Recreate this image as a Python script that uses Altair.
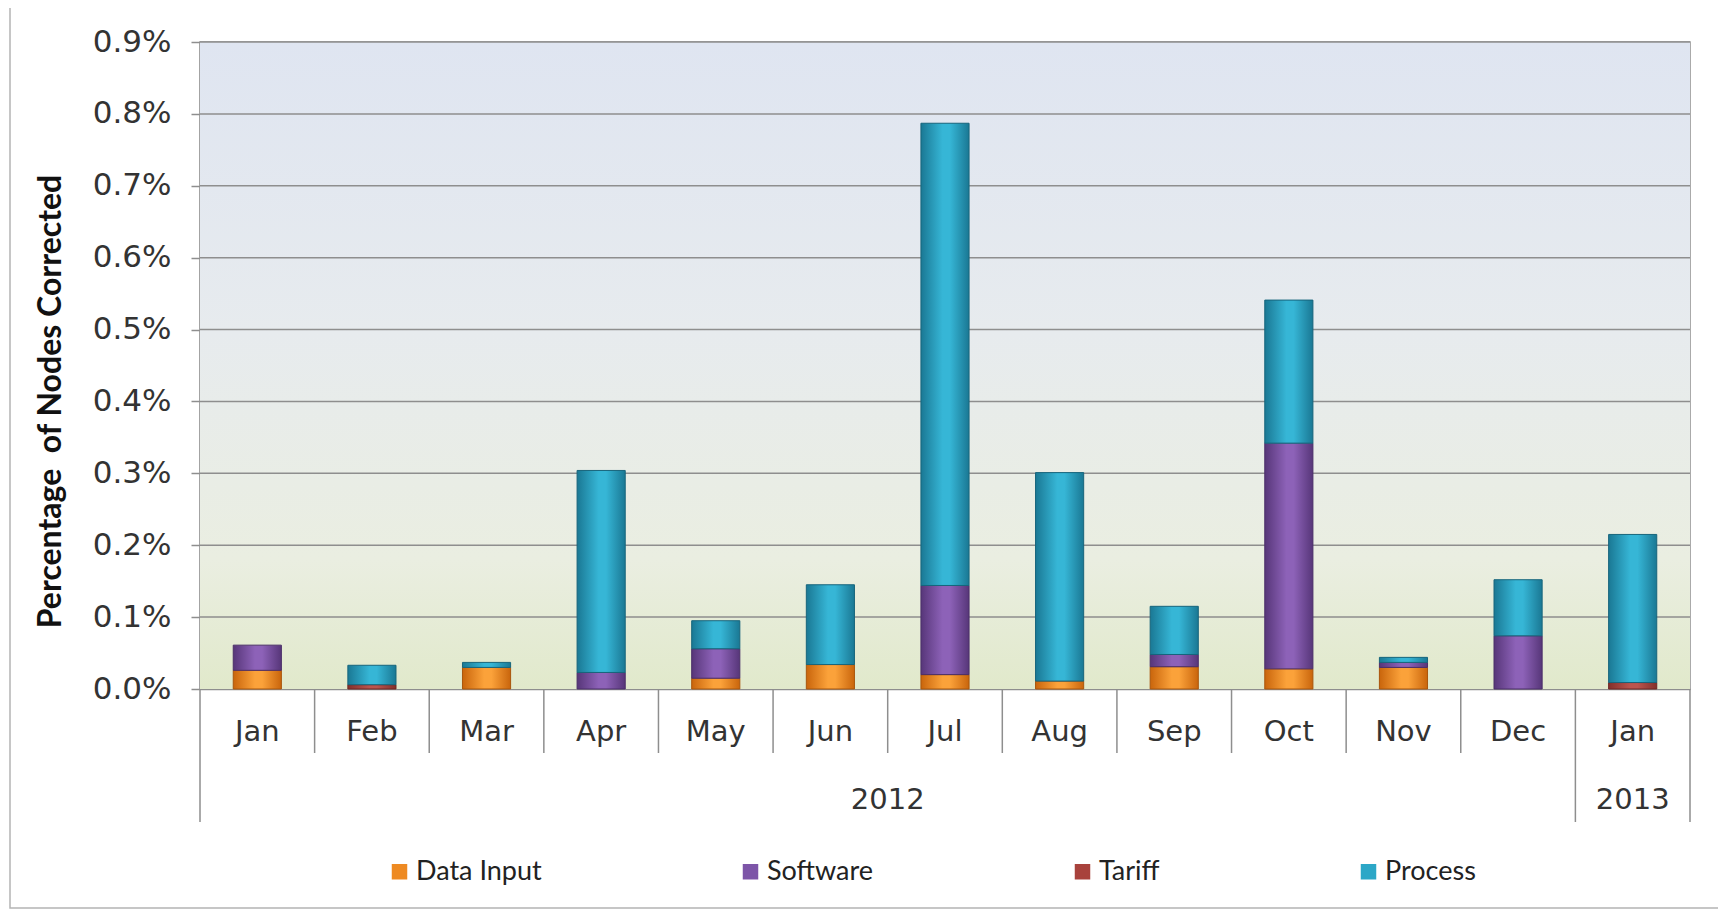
import altair as alt
import pandas as pd

# ---------------- data ----------------
months = ["Jan", "Feb", "Mar", "Apr", "May", "Jun", "Jul", "Aug", "Sep", "Oct", "Nov", "Dec", "Jan"]
years = ["2012"] * 12 + ["2013"]
series_names = ["Data Input", "Software", "Tariff", "Process"]

data_input = [0.026, 0.000, 0.030, 0.000, 0.015, 0.034, 0.020, 0.011, 0.031, 0.028, 0.030, 0.000, 0.000]
software   = [0.035, 0.000, 0.000, 0.023, 0.041, 0.000, 0.124, 0.000, 0.017, 0.314, 0.007, 0.074, 0.000]
tariff     = [0.000, 0.006, 0.000, 0.000, 0.000, 0.000, 0.000, 0.000, 0.000, 0.000, 0.000, 0.000, 0.009]
process    = [0.000, 0.027, 0.007, 0.281, 0.039, 0.111, 0.643, 0.290, 0.067, 0.199, 0.007, 0.078, 0.206]

y_ticks = [0.0, 0.1, 0.2, 0.3, 0.4, 0.5, 0.6, 0.7, 0.8, 0.9]

# ---------------- tables ----------------
cats = [f"{m} {y}" for m, y in zip(months, years)]
values = {"Data Input": data_input, "Software": software, "Tariff": tariff, "Process": process}
rows = []
for i, c in enumerate(cats):
    for o, s in enumerate(series_names):
        rows.append({"cat": c, "series": s, "value": values[s][i], "order": o})
df = pd.DataFrame(rows)

n = len(cats)
seps = pd.DataFrame({
    "pos": list(range(n + 1)),
    "long": [i == 0 or i == n or years[i] != years[i - 1] for i in range(n + 1)],
})
year_rows = []
start = 0
for i in range(1, n + 1):
    if i == n or years[i] != years[i - 1]:
        year_rows.append({"year": years[start], "mid": (start + i) / 2})
        start = i
year_df = pd.DataFrame(year_rows)
grid_df = pd.DataFrame({"v": y_ticks[1:]})

# ---------------- style ----------------
W, H = 1490, 647
GRID = "#8e8e8e"
flat = ["#ee8a22", "#7d55a8", "#a8423c", "#2ca7c7"]
grads = {
    "Data Input": ("#c9650c", "#fba23a"),
    "Software": ("#573679", "#8d62b8"),
    "Tariff": ("#83302b", "#bb554e"),
    "Process": ("#1a7894", "#36b6d6"),
}
edges = {"Data Input": "#a9560d", "Software": "#4b2f69", "Tariff": "#6e2724", "Process": "#17657c"}


def cyl(edge, mid):
    return {
        "gradient": "linear", "x1": 0, "x2": 1, "y1": 0, "y2": 0,
        "stops": [
            {"offset": 0, "color": edge},
            {"offset": 0.45, "color": mid},
            {"offset": 0.6, "color": mid},
            {"offset": 1, "color": edge},
        ],
    }


xscale = alt.Scale(domain=cats, paddingInner=0.58, paddingOuter=0.29)
yscale = alt.Scale(domain=[0, 0.9], nice=False)
xaxis = alt.Axis(
    title=None, labelExpr="split(datum.label, ' ')[0]", ticks=False, grid=False,
    labelFont="DejaVu Sans", labelFontSize=29, labelColor="#333333", labelPadding=28,
    domainColor=GRID, domainWidth=1.5, labelAngle=0,
)
yaxis = alt.Axis(
    title="Percentage\u00a0 of Nodes Corrected", values=y_ticks,
    labelExpr="format(datum.value, '.1f') + '%'",
    labelFont="DejaVu Sans", labelFontSize=31, labelColor="#333333", labelPadding=20,
    tickSize=9, tickColor=GRID, tickWidth=1.5,
    grid=False,
    domainColor=GRID, domainWidth=1.5,
    titleFont="Lato", titleFontSize=32, titleFontWeight="bold", titleColor="#111111",
    titleX=-150, titleY=359, titleAngle=-90, titleBaseline="middle", titleAlign="center",
)

bg_grad = {
    "gradient": "linear", "x1": 0, "x2": 0, "y1": 0, "y2": 1,
    "stops": [
        {"offset": 0, "color": "#dfe5f1"},
        {"offset": 0.45, "color": "#e7ebee"},
        {"offset": 0.8, "color": "#eaeee1"},
        {"offset": 1, "color": "#e1e9cb"},
    ],
}
one = pd.DataFrame({"a": [0]})
background = alt.Chart(one).mark_rect(color=bg_grad).encode(
    x=alt.value(0), x2=alt.value(W), y=alt.value(0), y2=alt.value(H)
)
gridlines = alt.Chart(grid_df).mark_rule(color=GRID, strokeWidth=1.5).encode(
    y=alt.Y("v:Q", scale=yscale, axis=yaxis), x=alt.value(0), x2=alt.value(W)
)

base = alt.Chart(df).transform_stack(
    stack="value", groupby=["cat"], as_=["y0", "y1"],
    sort=[alt.SortField("order", order="ascending")],
)

bar_layers = []
for s in series_names:
    lo, hi = grads[s]
    bar_layers.append(
        base.transform_filter(alt.datum.series == s)
        .transform_filter(alt.datum.value > 0)
        .mark_bar(color=cyl(lo, hi), stroke=edges[s], strokeWidth=1)
        .encode(
            x=alt.X("cat:N", sort=cats, scale=xscale, axis=xaxis),
            y=alt.Y("y0:Q", scale=yscale, axis=yaxis),
            y2="y1:Q",
        )
    )
bars = alt.layer(*bar_layers)

legend_layer = alt.Chart(df).mark_square(opacity=1).encode(
    x=alt.value(-5000), y=alt.value(-5000),
    color=alt.Color(
        "series:N", sort=series_names,
        scale=alt.Scale(domain=series_names, range=flat),
        legend=alt.Legend(
            title=None, orient="none", legendX=186, legendY=816, direction="horizontal",
            columns=4, columnPadding=195, symbolType="square", symbolSize=240,
            symbolStrokeWidth=0, labelFont="Lato", labelFontSize=27, labelColor="#222222",
            labelOffset=3,
        ),
    ),
)

xq = alt.X("pos:Q", scale=alt.Scale(domain=[0, n], nice=False, zero=False), axis=None)
sep_short = alt.Chart(seps).transform_filter("!datum.long").mark_rule(
    color=GRID, strokeWidth=1.5
).encode(x=xq, y=alt.value(H), y2=alt.value(H + 64))
sep_long = alt.Chart(seps).transform_filter("datum.long").mark_rule(
    color=GRID, strokeWidth=1.5
).encode(x=xq, y=alt.value(H), y2=alt.value(H + 133))
year_text = alt.Chart(year_df).mark_text(
    font="DejaVu Sans", fontSize=29, color="#333333", baseline="middle"
).encode(
    x=alt.X("mid:Q", scale=alt.Scale(domain=[0, n], nice=False, zero=False), axis=None),
    y=alt.value(H + 111), text="year:N",
)
seps_layer = alt.layer(sep_short, sep_long, year_text)

border = alt.Chart(one).mark_rect(
    filled=False, stroke="#b4b4b4", strokeWidth=1.5
).encode(x=alt.value(-190), x2=alt.value(W + 29), y=alt.value(-37), y2=alt.value(H + 219))

chart = alt.layer(border, background, gridlines, bars, legend_layer, seps_layer).resolve_scale(
    x="independent"
).properties(
    width=W, height=H,
    autosize=alt.AutoSizeParams(type="none"),
    padding={"left": 192, "top": 34, "right": 28, "bottom": 220},
).configure(background="white").configure_view(
    stroke=GRID, strokeWidth=1.5
)

chart.save("out.html", embed_options={"renderer": "svg", "actions": False})
